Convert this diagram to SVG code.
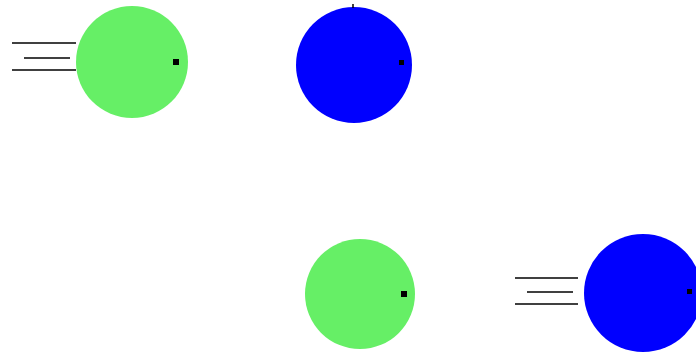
<svg xmlns="http://www.w3.org/2000/svg" width="696" height="356" viewBox="0 0 696 356">
<style>
.g{fill:#66ef66}
.b{fill:#0000ff}
.dot{fill:#000}
.ln{stroke:#000;stroke-width:1.5}
</style>
<rect width="696" height="356" fill="#fff"/>
<g id="ball-green-1">
<circle class="g" cx="132" cy="62" r="56"/>
<rect class="dot" x="173" y="59" width="6" height="6"/>
</g>
<g id="ball-blue-1">
<circle class="b" cx="354" cy="65" r="58"/>
<line x1="353" y1="4" x2="353" y2="8" class="ln" stroke="#0000aa"/>
<rect class="dot" x="399" y="60" width="5" height="5"/>
</g>
<g id="ball-green-2">
<circle class="g" cx="360" cy="294" r="55"/>
<rect class="dot" x="401" y="291" width="6" height="6"/>
</g>
<g id="ball-blue-2">
<circle class="b" cx="643" cy="293" r="59"/>
<rect class="dot" x="687" y="289" width="5" height="5"/>
</g>
<g id="connectors">
<line class="ln" x1="12" y1="43" x2="76" y2="43"/>
<line class="ln" x1="24" y1="58" x2="70" y2="58"/>
<line class="ln" x1="12" y1="70" x2="76" y2="70"/>
<line class="ln" x1="515" y1="278" x2="578" y2="278"/>
<line class="ln" x1="527" y1="292" x2="573" y2="292"/>
<line class="ln" x1="515" y1="304" x2="578" y2="304"/>
</g>
</svg>
